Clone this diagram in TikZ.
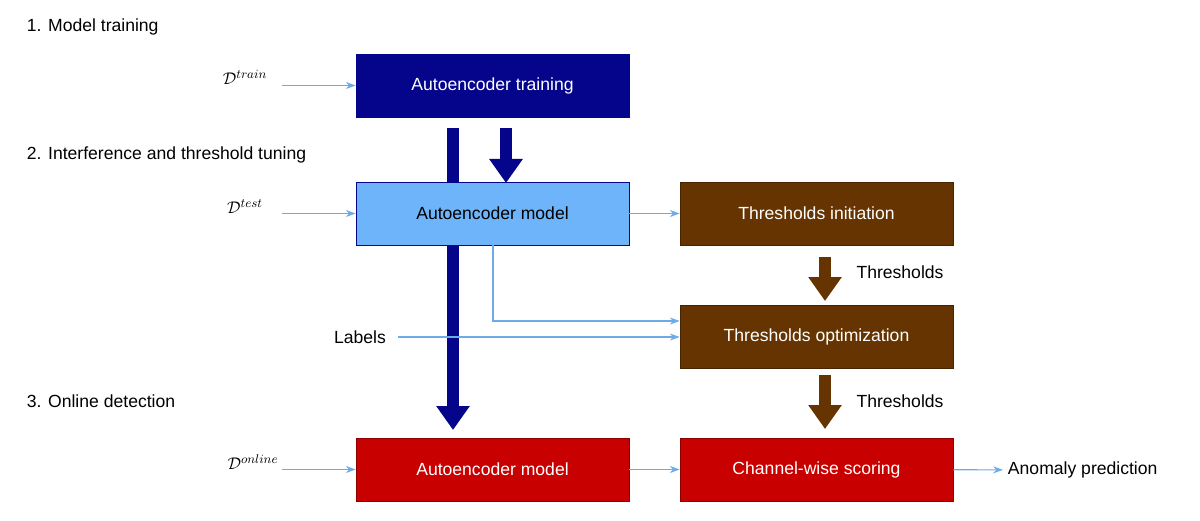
\documentclass[tikz,border=0pt]{standalone}
\usepackage{fontspec}
\setmainfont{Liberation Sans}
\usetikzlibrary{arrows.meta}
\definecolor{navy}{RGB}{5,5,140}
\definecolor{skyb}{RGB}{110,180,250}
\definecolor{brwn}{RGB}{102,52,0}
\definecolor{redd}{RGB}{200,0,0}
\definecolor{thin}{RGB}{110,170,230}
\tikzset{
  box/.style={draw=navy, minimum width=6.825cm, minimum height=1.575cm, font=\fontsize{12.5}{15}\selectfont},
  thinarrow/.style={draw=thin, -{Stealth[length=7pt,width=5pt]}, line width=0.8pt},
  bigarrow/.style={line width=0.3cm, -{Triangle[width=0.8cm,length=0.6cm]}},
  lbl/.style={font=\fontsize{12.5}{15}\selectfont},
}
\begin{document}
\begin{tikzpicture}[x=0.025cm, y=-0.025cm]
    \useasboundingbox (0,0) rectangle (1200,520);
    % Phase titles
    \node [lbl, anchor=west] (title1) at (22,27) {1. Model training};
    \node [lbl, anchor=west] (title2) at (22,155) {2. Interference and threshold tuning};
    \node [lbl, anchor=west] (title3) at (22,401) {3. Online detection};
    % Big arrows (behind boxes)
    \draw [bigarrow, navy] (453,128) -- (453,430);
    \draw [bigarrow, navy] (506,128) -- (506,183);
    \draw [bigarrow, brwn] (825,257) -- (825,301);
    \draw [bigarrow, brwn] (825,375) -- (825,429);
    % Boxes
    \node [box, fill=navy, text=white] (aeTrain) at (492.5,85.5) {Autoencoder training};
    \node [box, fill=skyb] (aeModel) at (492.5,213.5) {Autoencoder model};
    \node [box, draw=brwn!70!black, fill=brwn, text=white] (thrInit) at (816.5,213.5) {Thresholds initiation};
    \node [box, draw=brwn!70!black, fill=brwn, text=white] (thrOpt) at (816.5,336.5) {Thresholds optimization};
    \node [box, draw=redd!70!black, fill=redd, text=white] (aeOnline) at (492.5,469.5) {Autoencoder model};
    \node [box, draw=redd!70!black, fill=redd, text=white] (scoring) at (816.5,469.5) {Channel-wise scoring};
    % Inputs and labels
    \node [lbl] (dTrain) at (245,77) {$\mathcal{D}^{train}$};
    \node [lbl] (dTest) at (245,207) {$\mathcal{D}^{test}$};
    \node [lbl] (dOnline) at (253,462) {$\mathcal{D}^{online}$};
    \node [lbl] (labels) at (360,337) {Labels};
    \node [lbl] (thr1) at (900,272) {Thresholds};
    \node [lbl] (thr2) at (900,401) {Thresholds};
    \node [lbl, anchor=west] (anomaly) at (1003,470) {Anomaly prediction};
    \coordinate (inTrain) at (282,85.5);
    \coordinate (inTest) at (282,213.5);
    \coordinate (inOnline) at (282,469.5);
    \coordinate (inLabels) at (398,337);
    \coordinate (branch) at (493,321);
    % Thin connectors
    \draw [thinarrow] (inTrain) -- (aeTrain);
    \draw [thinarrow] (inTest) -- (aeModel);
    \draw [thinarrow] (inOnline) -- (aeOnline);
    \draw [thinarrow] (inLabels) -- (thrOpt.west |- inLabels);
    \draw [thinarrow] (aeModel.south -| branch) -- (branch) -- (thrOpt.west |- branch);
    \draw [thinarrow] (aeModel) -- (thrInit);
    \draw [thinarrow] (aeOnline) -- (scoring);
    \draw [thinarrow] (scoring) -- (anomaly);
\end{tikzpicture}
\end{document}
